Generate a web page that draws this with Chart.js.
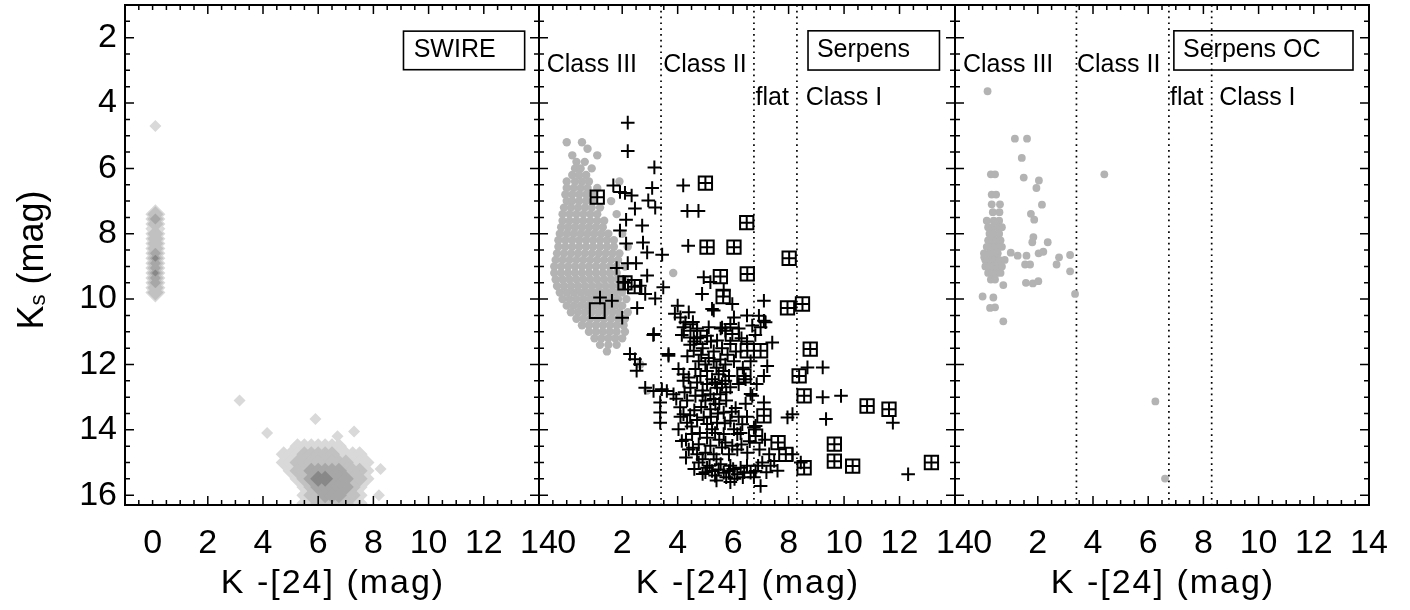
<!DOCTYPE html>
<html>
<head>
<meta charset="utf-8">
<script src="https://cdn.jsdelivr.net/npm/chart.js@4.4.0/dist/chart.umd.min.js"></script>
<style>
  html, body { margin: 0; padding: 0; background: #fff; }
  #wrap { position: relative; width: 1410px; height: 610px; overflow: hidden; }
  canvas { position: absolute; top: 0; }
</style>
</head>
<body>
<div id="wrap">
  <canvas id="c1" width="600" height="610" style="left:0px"></canvas>
  <canvas id="c2" width="540" height="610" style="left:480px"></canvas>
  <canvas id="c3" width="515" height="610" style="left:895px"></canvas>
</div>
<script>
// ---------------- Data ----------------
const xRange = [-1, 14];
const yRange = [1, 16.3];
const xTicks = [0, 2, 4, 6, 8, 10, 12, 14];
const yTicks = [2, 4, 6, 8, 10, 12, 14, 16];
const classCuts = [3.4, 6.75, 8.3];           // III/II, II/flat, flat/I boundaries in K-[24]
const classLabels = ['Class III', 'Class II', 'flat', 'Class I'];
const fieldNames = ['SWIRE', 'Serpens', 'Serpens OC'];

// SWIRE density contour levels on a grid (one digit per cell, 0 = below lowest contour)
// main blob: columns K-[24] = 4.25 .. 8.25 step 0.25, rows Ks = 14.5 .. 16.25 step 0.25
const swireGridX = [4.25, 0.25];
const swireGridY = [14.5, 0.25];
const swireGrid = [
  '00001111111000000',
  '00111222221111000',
  '00112222222211100',
  '00012233333222100',
  '00001234433322100',
  '00000123333321000',
  '00000122333221000',
  '00000112222211000'
];
// stellar strip: single column at K-[24] = 0.1, Ks = 7.4 .. 9.8 step 0.15
const swireStripX = 0.1;
const swireStripY = [7.4, 0.15];
const swireStrip = '23212222343343322';
// isolated lowest-level islands
const swireSpots = [
  [0.1, 4.7], [3.15, 13.1], [5.9, 13.67], [4.15, 14.1], [6.7, 14.2], [7.3, 14.05], [8.26, 15.2], [8.2, 16.0]
];

// Serpens field stars (grey), rows of [Ks, [K-[24] ...]]
const serpensStarRows = [
  [5.2, [0.0, 0.55]], [5.4, [0.75]], [5.6, [0.2, 1.1]], [5.8, [0.35, 0.65]],
  [6.0, [0.3, 0.5, 0.9]], [6.2, [0.2, 0.45, 0.7]], [6.4, [0.0, 0.3, 0.55, 0.8, 1.9]],
  [6.6, [0.0, 0.25, 0.5, 0.75, 1.1]], [6.8, [-0.05, 0.2, 0.45, 0.7, 0.95]],
  [7.0, [0.0, 0.2, 0.45, 0.7, 0.95, 1.6]], [7.2, [-0.1, 0.15, 0.4, 0.65, 0.9, 1.2]],
  [7.4, [-0.15, 0.1, 0.35, 0.6, 0.85, 1.1, 1.8]], [7.6, [-0.15, 0.1, 0.35, 0.6, 0.85, 1.1, 1.35]],
  [7.8, [-0.2, 0.05, 0.3, 0.55, 0.8, 1.05, 1.3]], [8.0, [-0.25, 0.0, 0.25, 0.5, 0.75, 1.0, 1.25, 1.5, 2.0]],
  [8.2, [-0.3, -0.05, 0.2, 0.45, 0.7, 0.95, 1.2, 1.45, 1.7]],
  [8.4, [-0.3, -0.05, 0.2, 0.45, 0.7, 0.95, 1.2, 1.45, 1.7, 2.2]],
  [8.6, [-0.35, -0.1, 0.15, 0.4, 0.65, 0.9, 1.15, 1.4, 1.65, 1.9]],
  [8.8, [-0.4, -0.15, 0.1, 0.35, 0.6, 0.85, 1.1, 1.35, 1.6, 1.85]],
  [9.0, [-0.45, -0.2, 0.05, 0.3, 0.55, 0.8, 1.05, 1.3, 1.55, 1.8, 2.1]],
  [9.2, [-0.45, -0.2, 0.05, 0.3, 0.55, 0.8, 1.05, 1.3, 1.55, 1.8, 3.84]],
  [9.4, [-0.4, -0.15, 0.1, 0.35, 0.6, 0.85, 1.1, 1.35, 1.6, 1.85, 2.1]],
  [9.6, [-0.35, -0.1, 0.15, 0.4, 0.65, 0.9, 1.15, 1.4, 1.65, 1.9]],
  [9.8, [-0.25, 0.0, 0.25, 0.5, 0.75, 1.0, 1.25, 1.5, 1.75, 2.0]],
  [10.0, [-0.15, 0.1, 0.35, 0.6, 0.85, 1.1, 1.35, 1.6, 1.85, 2.15]],
  [10.2, [0.0, 0.25, 0.5, 0.75, 1.0, 1.25, 1.5, 1.75, 2.0]],
  [10.4, [0.15, 0.4, 0.65, 0.9, 1.15, 1.4, 1.65, 1.9, 2.2]],
  [10.6, [0.35, 0.6, 0.85, 1.1, 1.35, 1.6, 1.85, 2.1]],
  [10.8, [0.55, 0.8, 1.05, 1.3, 1.55, 1.8, 2.05]],
  [11.0, [0.8, 1.05, 1.3, 1.55, 1.8, 2.1]],
  [11.2, [1.0, 1.25, 1.5, 1.75, 2.0]],
  [11.4, [1.2, 1.5, 1.8]],
  [11.6, [1.45]],
  [12.0, [2.65]],
  [12.8, [2.9]]
];

// Serpens YSOs (plus signs): [K-[24], Ks]
const serpensYSO = [
  [2.2, 4.6], [2.2, 5.47], [3.16, 5.97], [4.2, 6.52], [1.68, 6.52], [1.92, 6.72], [2.1, 6.75], [2.34, 6.83],
  [3.08, 6.6], [2.94, 6.98], [3.19, 7.2], [2.46, 7.23], [4.35, 7.3], [4.75, 7.3], [2.14, 7.57], [2.72, 7.75],
  [1.92, 7.9], [2.14, 8.3], [2.75, 8.27], [2.9, 8.57], [3.44, 8.64], [4.38, 8.37], [2.5, 8.9], [2.2, 8.9],
  [1.8, 9.05], [2.9, 9.28], [2.04, 9.48], [2.64, 9.59], [3.48, 9.64], [2.83, 9.84], [3.19, 9.98], [1.2, 9.95],
  [1.63, 10.05], [2.54, 10.27], [2.0, 10.57], [3.12, 11.1], [2.28, 11.68], [2.46, 11.84], [2.64, 11.99],
  [2.52, 12.19], [3.67, 11.73],
  [4.94, 9.33], [5.18, 9.48], [4.88, 9.84], [5.3, 10.35], [5.66, 9.74], [5.97, 10.15], [6.03, 10.56],
  [5.6, 10.87], [7.11, 10.05], [6.93, 10.51], [7.11, 10.66], [6.69, 10.81], [7.41, 11.33], [4.0, 10.2],
  [4.1, 10.56], [4.28, 10.71], [4.21, 10.86], [5.12, 10.86], [5.24, 10.3], [5.55, 10.9], [5.72, 10.97],
  [5.9, 10.76], [6.99, 10.86], [7.17, 10.71], [5.06, 11.12], [5.42, 11.27], [5.9, 11.37], [3.14, 11.07],
  [3.67, 11.68], [4.58, 11.58], [4.76, 11.9], [5.12, 11.8], [5.54, 11.85], [5.72, 12.0], [6.03, 11.9],
  [6.63, 11.9], [7.23, 12.05], [7.11, 12.35], [4.03, 12.14], [4.21, 12.3], [4.21, 12.5], [4.64, 12.14],
  [4.82, 12.35], [5.06, 12.2], [5.24, 12.45], [5.48, 12.3], [5.72, 12.5], [5.9, 12.7], [6.45, 12.45],
  [2.83, 12.71], [3.13, 12.81], [3.43, 12.76], [3.61, 12.81], [3.85, 12.91], [4.46, 12.71], [4.64, 12.96],
  [4.34, 13.1], [5.06, 12.6], [5.18, 12.91], [5.42, 12.71], [5.3, 13.06], [5.54, 12.91], [5.36, 13.21],
  [5.18, 13.37], [6.09, 13.33], [5.66, 13.47], [6.69, 12.96], [7.11, 13.16], [3.37, 13.16], [3.37, 13.47],
  [3.37, 13.78], [4.09, 13.31], [4.21, 13.52], [4.34, 13.78], [4.03, 13.98], [4.94, 13.62], [5.06, 13.82],
  [5.24, 13.98], [5.42, 13.78], [5.9, 13.72], [6.03, 13.98], [6.33, 13.83], [7.96, 13.62], [8.14, 13.52],
  [4.15, 14.34], [4.52, 14.13], [4.76, 14.44], [5.06, 14.24], [5.18, 14.49], [5.72, 14.39], [5.97, 14.49],
  [6.15, 14.6], [6.51, 14.7], [4.7, 14.75], [4.76, 15.0], [5.06, 15.16], [5.24, 15.26], [5.48, 15.21],
  [5.66, 15.31], [5.85, 15.26], [6.15, 15.36], [6.27, 15.16], [6.63, 15.31], [6.81, 15.26], [6.99, 15.72],
  [7.05, 15.0], [7.48, 14.95], [7.3, 14.75], [8.14, 14.75], [8.44, 15.0], [9.23, 12.09], [9.89, 12.96],
  [9.23, 13.0], [9.35, 13.67], [11.76, 13.78], [12.31, 15.36], [6.75, 13.93], [6.15, 14.13], [5.66, 14.13],
  [5.6, 14.54], [8.68, 12.09], [6.63, 12.9], [6.81, 13.88], [6.27, 14.1],
  [4.9, 11.5], [5.3, 11.6], [5.0, 12.0], [5.4, 12.1], [5.6, 12.6], [4.9, 12.8], [5.0, 13.1], [5.5, 13.2],
  [5.2, 13.6], [5.7, 13.8], [4.6, 13.4], [4.5, 13.9], [4.3, 14.3], [4.4, 14.6], [4.9, 14.9], [5.4, 14.9],
  [5.0, 15.3], [5.9, 15.1], [6.4, 15.3], [5.2, 11.3], [4.7, 11.2], [4.45, 11.4], [6.3, 11.2], [6.5, 10.5],
  [4.55, 10.7],
  [4.6, 15.2], [4.9, 15.35], [5.15, 15.1], [5.35, 15.4], [5.55, 15.05], [5.75, 15.45], [6.0, 15.2],
  [6.05, 15.5], [6.35, 15.45], [6.5, 15.1], [6.75, 15.45], [6.9, 15.1], [7.2, 15.3], [7.35, 15.1],
  [7.6, 15.25], [5.4, 15.55], [5.9, 15.6],
  [4.3, 14.85], [4.55, 14.55], [5.0, 14.7], [5.3, 14.75], [5.5, 14.3], [5.85, 14.75], [6.3, 14.45],
  [6.6, 14.35], [6.95, 14.6], [7.15, 14.3], [5.35, 14.1], [4.8, 14.1],
  [4.1, 13.6], [4.45, 13.55], [4.7, 13.7], [4.85, 13.3], [5.45, 13.5], [5.75, 13.1], [5.95, 13.45],
  [6.2, 13.6], [6.45, 13.2], [6.5, 13.6], [3.95, 13.05], [4.25, 12.85],
  [4.4, 12.4], [4.7, 12.55], [5.35, 12.55], [5.65, 12.2], [5.85, 12.35], [6.2, 12.6], [6.35, 12.1],
  [6.85, 12.6], [4.9, 12.95], [5.75, 12.85],
  [4.35, 11.75], [4.6, 11.3], [4.85, 11.7], [5.3, 11.9], [5.6, 11.5], [5.8, 11.7], [6.1, 11.6], [6.5, 11.3],
  [6.8, 11.1], [6.2, 10.9], [4.7, 10.9], [4.4, 10.4], [3.9, 10.45], [4.15, 11.1]
];
// Serpens YSOs flagged with boxes (boxed plus)
const serpensBoxed = [
  [1.1, 6.88], [5.0, 6.45], [6.49, 7.66], [5.06, 8.41], [6.03, 8.41], [8.02, 8.75], [6.51, 9.23], [5.54, 9.31],
  [5.64, 9.92], [7.96, 10.27], [8.5, 10.15], [2.1, 9.5], [2.45, 9.62], [4.46, 10.97], [4.82, 11.17],
  [5.97, 11.07], [6.51, 11.58], [6.99, 11.58], [6.39, 12.35], [8.78, 11.53], [8.38, 12.35], [8.56, 12.96],
  [10.83, 13.27], [11.62, 13.37], [7.11, 13.57], [6.81, 14.19], [7.62, 14.39], [7.9, 14.75], [9.65, 14.44],
  [9.65, 14.96], [10.31, 15.11], [8.56, 15.16], [13.15, 15.0]
];
// boxed source without plus
const serpensBoxOnly = [[1.1, 10.35]];

// Serpens OC stars (grey): [K-[24], Ks]
const ocStars = [
  [0.18, 3.64], [1.17, 5.09], [1.61, 5.09], [1.42, 5.68], [0.3, 6.18], [0.45, 6.18], [4.41, 6.18], [1.49, 6.28],
  [2.04, 6.37], [1.95, 6.6], [0.33, 6.8], [0.49, 6.8], [0.33, 7.1], [0.63, 7.1], [2.15, 7.11], [0.37, 7.34],
  [0.61, 7.34], [1.75, 7.39], [1.87, 7.57],
  [0.15, 7.6], [0.4, 7.6], [0.6, 7.6], [0.2, 7.8], [0.35, 7.8], [0.55, 7.8], [0.7, 7.8], [0.25, 8.0], [0.4, 8.0],
  [0.6, 8.0], [0.2, 8.2], [0.35, 8.2], [0.5, 8.2], [0.65, 8.2], [0.15, 8.4], [0.3, 8.4], [0.45, 8.4], [0.6, 8.4],
  [0.7, 8.4], [0.05, 8.6], [0.25, 8.6], [0.4, 8.6], [0.55, 8.6], [0.1, 8.8], [0.3, 8.8], [0.45, 8.8], [0.6, 8.8],
  [0.8, 8.8], [0.1, 9.0], [0.25, 9.0], [0.4, 9.0], [0.55, 9.0], [0.7, 9.0], [0.2, 9.2], [0.35, 9.2], [0.5, 9.2],
  [0.65, 9.2], [0.3, 9.4], [0.45, 9.4], [0.06, 8.72],
  [1.84, 8.1], [1.8, 8.26], [2.36, 8.26], [1.02, 8.58], [1.27, 8.67], [1.59, 8.67], [2.03, 8.6], [2.2, 8.55],
  [2.77, 8.72], [3.17, 8.65], [2.68, 8.94], [1.54, 8.94], [1.72, 8.94], [3.17, 9.15], [1.57, 9.5], [1.82, 9.52],
  [2.02, 9.45], [3.35, 9.84], [0.75, 9.57], [0.0, 9.92], [0.39, 9.95], [0.45, 10.25], [0.27, 10.27],
  [0.75, 10.68], [6.26, 13.13], [6.61, 15.49]
];

// ---------------- Helpers ----------------
const FONT = '"Liberation Sans", Arial, Helvetica, sans-serif';
Chart.defaults.font.family = FONT;
const pts = arr => arr.map(p => ({ x: p[0], y: p[1] }));
const GREYS = ['#d9d9d9', '#c1c1c1', '#a7a7a7', '#888888'];

// cells of the level grids at or above a given contour level
function gridCells(lv) {
  const out = [];
  swireGrid.forEach((row, j) => {
    for (let i = 0; i < row.length; i++) {
      if (+row[i] >= lv) out.push({ x: swireGridX[0] + i * swireGridX[1], y: swireGridY[0] + j * swireGridY[1] });
    }
  });
  return out;
}
function stripCells(lv) {
  const out = [];
  for (let j = 0; j < swireStrip.length; j++) {
    if (+swireStrip[j] >= lv) out.push({ x: swireStripX, y: swireStripY[0] + j * swireStripY[1] });
  }
  return out;
}

function swireDatasets() {
  const sets = [{ data: pts(swireSpots), pointStyle: 'rectRot', pointRadius: 6, pointBackgroundColor: GREYS[0],
    pointBorderWidth: 0, order: 20 }];
  for (let lv = 1; lv <= 4; lv++) {
    sets.push({ data: gridCells(lv), pointStyle: 'rectRot', pointRadius: 8,
      pointBackgroundColor: GREYS[lv - 1], pointBorderWidth: 0, order: 19 - lv });
    sets.push({ data: stripCells(lv), pointStyle: 'rectRot', pointRadius: [10, 8, 5.5, 3.5][lv - 1],
      pointBackgroundColor: GREYS[lv - 1], pointBorderWidth: 0, order: 19 - lv });
  }
  return sets;
}

function cutLines() {
  return classCuts.map(c => ({
    data: [{ x: c, y: yRange[0] }, { x: c, y: yRange[1] }],
    showLine: true, borderColor: '#000', borderWidth: 1.7, borderDash: [1.7, 4.1],
    pointRadius: 0, order: 30
  }));
}

function greyDots(arr, r) {
  return { data: pts(arr), pointStyle: 'circle', pointRadius: r, pointBackgroundColor: '#b3b3b3',
    pointBorderWidth: 0, order: 25 };
}

// frame, inward ticks, titles and annotations
const decor = {
  id: 'decor',
  afterDraw(chart, args, o) {
    const ctx = chart.ctx, a = chart.chartArea, sx = chart.scales.x, sy = chart.scales.y;
    ctx.save();
    ctx.strokeStyle = '#000';
    ctx.lineWidth = 1.5;
    ctx.beginPath();
    for (let v = xRange[0]; v <= xRange[1] + 1e-6; v += 0.5) {
      const p = sx.getPixelForValue(v);
      const len = v > 0 && v % 2 === 0 ? 9 : 5;
      ctx.moveTo(p, a.bottom); ctx.lineTo(p, a.bottom - len);
      ctx.moveTo(p, a.top); ctx.lineTo(p, a.top + len);
    }
    for (let v = yRange[0]; v <= yRange[1] + 1e-6; v += 0.5) {
      const p = sy.getPixelForValue(v);
      const len = v % 2 === 0 ? 9 : 5;
      ctx.moveTo(a.left, p); ctx.lineTo(a.left + len, p);
      ctx.moveTo(a.right, p); ctx.lineTo(a.right - len, p);
    }
    ctx.stroke();
    ctx.lineWidth = 2;
    ctx.strokeRect(a.left, a.top, a.right - a.left, a.bottom - a.top);

    ctx.fillStyle = '#000';
    ctx.textBaseline = 'alphabetic';
    ctx.textAlign = 'left';
    ctx.font = '25px ' + FONT;
    (o.labels || []).forEach(l => {
      ctx.fillText(l.text, sx.getPixelForValue(l.x), sy.getPixelForValue(l.y));
    });
    if (o.box) {
      const b = o.box;
      const x0 = sx.getPixelForValue(b.x0), x1 = sx.getPixelForValue(b.x1);
      const y0 = sy.getPixelForValue(b.y0), y1 = sy.getPixelForValue(b.y1);
      ctx.lineWidth = 1.6;
      ctx.strokeRect(x0, y0, x1 - x0, y1 - y0);
      ctx.fillText(b.text, sx.getPixelForValue(b.tx), sy.getPixelForValue(b.ty));
    }
    // x title
    ctx.font = '34px ' + FONT;
    ctx.letterSpacing = '2px';
    ctx.textAlign = 'center';
    ctx.fillText('K -[24] (mag)', (a.left + a.right) / 2 + 1, 593);
    ctx.letterSpacing = '0px';
    // y title with subscript
    if (o.yTitle) {
      ctx.translate(43, (a.top + a.bottom) / 2 + 5);
      ctx.rotate(-Math.PI / 2);
      ctx.textAlign = 'left';
      ctx.font = '36px ' + FONT;
      const wK = ctx.measureText('K').width;
      const wM = ctx.measureText(' (mag)').width;
      ctx.font = '22px ' + FONT;
      const wS = ctx.measureText('s').width;
      let x = -(wK + wS + wM) / 2;
      ctx.font = '36px ' + FONT;
      ctx.fillText('K', x, 0); x += wK;
      ctx.font = '22px ' + FONT;
      ctx.fillText('s', x, 2); x += wS;
      ctx.font = '36px ' + FONT;
      ctx.fillText(' (mag)', x, 0);
    }
    ctx.restore();
  }
};

function panel(id, datasets, pad, showY, decorOpts) {
  return new Chart(document.getElementById(id), {
    type: 'scatter',
    data: { datasets },
    options: {
      responsive: false, animation: false, events: [],
      layout: { padding: pad, autoPadding: false },
      plugins: { legend: { display: false }, tooltip: { enabled: false }, decor: decorOpts },
      scales: {
        x: {
          type: 'linear', position: 'bottom', min: xRange[0], max: xRange[1],
          afterBuildTicks: s => { s.ticks = xTicks.map(v => ({ value: v })); },
          ticks: { autoSkip: false, maxRotation: 0, color: '#000', font: { size: 34 }, padding: 18 },
          grid: { display: false, drawTicks: false }, border: { display: false },
          afterFit: s => { s.height = 105; s.paddingLeft = 0; s.paddingRight = 0; }
        },
        y: {
          type: 'linear', position: 'left', reverse: true, min: yRange[0], max: yRange[1],
          afterBuildTicks: s => { s.ticks = yTicks.map(v => ({ value: v })); },
          ticks: { display: showY, color: '#000', font: { size: 34 }, padding: 8 },
          grid: { display: false, drawTicks: false }, border: { display: false },
          afterFit: s => { s.width = showY ? 125 : 0; s.paddingTop = 0; s.paddingBottom = 0; }
        }
      }
    },
    plugins: [decor]
  });
}

// ---------------- Panels ----------------
const classLabelPos = [[-0.72, 3.05], [3.48, 3.05], [6.81, 4.07], [8.62, 4.07]];
const labelsAt = shift => classLabels.map((t, i) => ({ text: t, x: classLabelPos[i][0] + shift[i], y: classLabelPos[i][1] }));

panel('c1', swireDatasets(), { left: 0, top: 5, right: 61, bottom: 0 }, true, {
  yTitle: true,
  box: { text: fieldNames[0], x0: 9.09, x1: 13.48, y0: 1.8, y1: 2.98, tx: 9.46, ty: 2.58 }
});

const serpensStars = [];
serpensStarRows.forEach(r => r[1].forEach(x => serpensStars.push([x, r[0]])));

panel('c2', [
  ...cutLines(),
  greyDots(serpensStars, 4.2),
  { data: pts(serpensYSO.concat(serpensBoxed)), pointStyle: 'cross', pointRadius: 6.8, borderColor: '#000',
    pointBorderColor: '#000', pointBorderWidth: 2, order: 2 },
  { data: pts(serpensBoxed), pointStyle: 'rect', pointRadius: 9.4, pointBackgroundColor: 'rgba(0,0,0,0)',
    pointBorderColor: '#000', pointBorderWidth: 2, order: 1 },
  { data: pts(serpensBoxOnly), pointStyle: 'rect', pointRadius: 10.5, pointBackgroundColor: 'rgba(0,0,0,0)',
    pointBorderColor: '#000', pointBorderWidth: 2, order: 1 }
], { left: 59, top: 5, right: 65, bottom: 0 }, false, {
  labels: labelsAt([0, 0, 0, 0]),
  box: { text: fieldNames[1], x0: 8.7, x1: 13.44, y0: 1.79, y1: 2.99, tx: 9.02, ty: 2.59 }
});

panel('c3', [
  ...cutLines(),
  greyDots(ocStars, 3.9)
], { left: 60, top: 5, right: 41, bottom: 0 }, false, {
  labels: labelsAt([0.01, -0.06, -0.02, -0.05]),
  box: { text: fieldNames[2], x0: 6.93, x1: 13.42, y0: 1.79, y1: 2.99, tx: 7.26, ty: 2.59 }
});
</script>
</body>
</html>
